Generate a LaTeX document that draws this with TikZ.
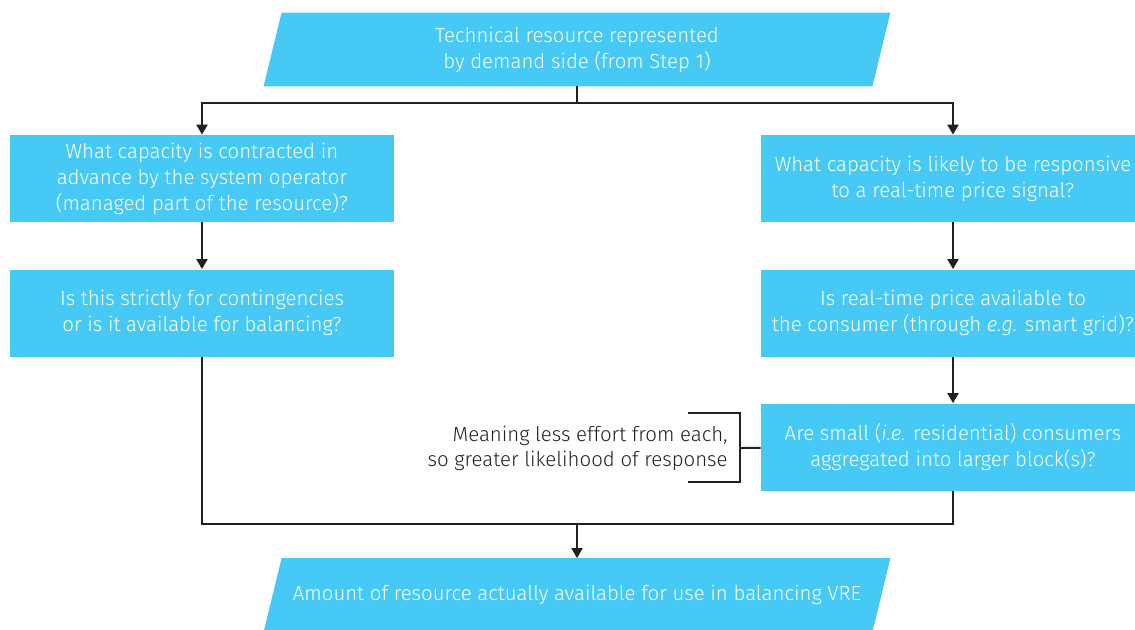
\documentclass[tikz,border=0pt]{standalone}
\usepackage{fontspec}
\setmainfont{Fira Sans}[UprightFont={* Light},ItalicFont={* Light Italic}]
\usetikzlibrary{arrows.meta,backgrounds}
\definecolor{skyblue}{RGB}{71,201,245}
\definecolor{darkline}{RGB}{35,31,32}
\tikzset{
  box/.style={rectangle, fill=skyblue, text=white, align=center, minimum width=192pt, minimum height=43.5pt, inner sep=0pt, font=\fontsize{10.2}{13}\selectfont},
  para/.style={rectangle, text=white, align=center, minimum width=304pt, minimum height=36.5pt, inner sep=0pt, font=\fontsize{10.2}{13}\selectfont},
  note/.style={align=right, text=darkline, inner sep=0pt, font=\fontsize{10.2}{12.5}\selectfont},
  link/.style={draw=darkline, line width=1pt},
  arr/.style={link, -{Triangle[length=5pt,width=5.5pt]}}
}
\newcommand{\slantfill}[1]{%
  \fill[skyblue] ([xshift=-4.5pt]#1.south west) -- ([xshift=4.5pt]#1.north west)
    -- ([xshift=4.5pt]#1.north east) -- ([xshift=-4.5pt]#1.south east) -- cycle;}
\begin{document}
\begin{tikzpicture}[x=0.5pt,y=-0.5pt]
\useasboundingbox (0,0) rectangle (1135,629);
\node[para] (tech) at (577,49.5) {Technical resource represented\\by demand side (from Step 1)};
\node[box] (contract) at (202,178.5) {What capacity is contracted in\\advance by the system operator\\(managed part of the resource)?};
\node[box] (conting) at (202,313) {Is this strictly for contingencies\\or is it available for balancing?};
\node[box] (respons) at (953,178.5) {What capacity is likely to be responsive\\to a real-time price signal?};
\node[box] (price) at (953,313) {Is real-time price available to\\the consumer (through \emph{e.g.} smart grid)?};
\node[box] (aggr) at (953,447) {Are small (\emph{i.e.} residential) consumers\\aggregated into larger block(s)?};
\node[note, anchor=east] (meaning) at (728,448) {Meaning less effort from each,\\so greater likelihood of response};
\node[para] (amount) at (577,595) {Amount of resource actually available for use in balancing VRE};
\begin{scope}[on background layer]
\slantfill{tech}
\slantfill{amount}
\end{scope}
\coordinate (split) at (577,103);
\coordinate (join) at (577,524);
\coordinate (brace) at (740,448);
\draw[link] (tech) -- (split);
\draw[arr] (split) -| (contract);
\draw[arr] (split) -| (respons);
\draw[arr] (contract) -- (conting);
\draw[arr] (respons) -- (price);
\draw[arr] (price) -- (aggr);
\draw[link] (conting) |- (join);
\draw[link] (aggr) |- (join);
\draw[arr] (join) -- (amount);
\draw[link] (aggr) -- (brace);
\draw[link] (brace) ++(-52,-35) -- ++(52,0) -- ++(0,69) -- ++(-52,0);
\end{tikzpicture}
\end{document}
